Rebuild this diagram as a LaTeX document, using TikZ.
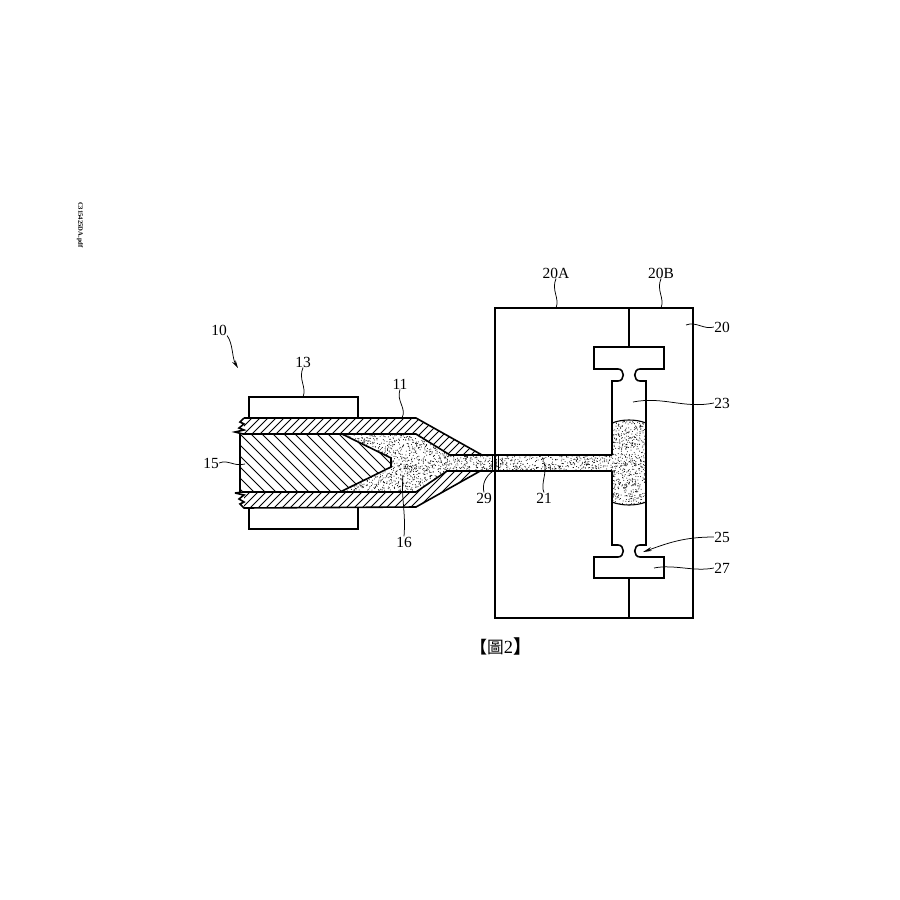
\documentclass[tikz,border=0pt]{standalone}
\usepackage{fontspec}
\usetikzlibrary{arrows.meta}
\setmainfont{Liberation Serif}
\newfontfamily\cjk{Noto Sans CJK TC}
\tikzset{
  wall/.style={black, line width=0.32mm, line join=miter},
  hatch/.style={black, line width=0.17mm},
  leader/.style={black, line width=0.15mm},
  refnum/.style={inner sep=0pt, font=\fontsize{8.8pt}{10pt}\selectfont}
}
\begin{document}
\begin{tikzpicture}[x=0.2mm, y=-0.2mm]
    \useasboundingbox (0,0) rectangle (900,900);
    % melt
    \begin{scope}
      \clip (342,434) -- (416,434) -- (450,455) -- (612,455) -- (612,423) .. controls (622,419) and (636,419) .. (646,423) -- (646,502) .. controls (636,506) and (622,506) .. (612,502) -- (612,471) -- (447,471) -- (416,492) -- (340,492) -- (391,467) -- (391,458) -- cycle;
      \pgfmathsetseed{29}
      \foreach \i in {1,...,5600} {
        \fill[black] ({340+306*rnd},{419+88*rnd}) circle (0.5);
      }
    \end{scope}
    % barrel hatching
    \begin{scope}
      \clip (244,418) -- (416,418) -- (482,455) -- (450,455) -- (416,434) -- (244,434) -- cycle (244,508) -- (416,507) -- (482,470) -- (447,470) -- (416,492) -- (244,492) -- cycle;
      \foreach \hx in {100,108,...,500} {
        \draw[hatch] (\hx,530) -- ++(130,-130);
      }
    \end{scope}
    % screw hatching
    \begin{scope}
      \clip (240,434) -- (342,434) -- (391,458) -- (391,467) -- (340,492) -- (240,492) -- cycle;
      \foreach \hx in {160,171,...,400} {
        \draw[hatch] (\hx,420) -- ++(90,90);
      }
    \end{scope}
    % barrel
    \draw[wall] (244,418) -- (240,422) -- (244,424) -- (239,428) -- (244,430) -- (235,432) -- (243,434) -- (244,434) -- (416,434) -- (450,455) -- (612,455);
    \draw[wall] (244,418) -- (416,418) -- (482,455);
    \draw[wall] (235,493) -- (243,492) -- (416,492) -- (447,471) -- (612,471);
    \draw[wall] (235,493) -- (244,495) -- (239,499) -- (244,502) -- (240,504) -- (244,508) -- (416,507) -- (482,470);
    % screw
    \draw[wall] (342,434) -- (391,458) -- (391,467) -- (340,492);
    \draw[wall] (240,434) -- (240,492);
    % heaters
    \draw[wall] (249,418) -- (249,397) -- (358,397) -- (358,418);
    \draw[wall] (249,508) -- (249,529) -- (358,529) -- (358,508);
    % mold
    \draw[wall] (495,308) rectangle (693,618);
    \draw[wall] (629,308) -- (629,347) (629,578) -- (629,618);
    % cavity
    \draw[wall] (612,455) -- (612,381) -- (618,381) .. controls (625,381) and (625,369) .. (618,369) -- (594,369) -- (594,347) -- (664,347) -- (664,369) -- (640,369) .. controls (633,369) and (633,381) .. (640,381) -- (646,381) -- (646,545) -- (640,545) .. controls (633,545) and (633,557) .. (640,557) -- (664,557) -- (664,578) -- (594,578) -- (594,557) -- (618,557) .. controls (625,557) and (625,545) .. (618,545) -- (612,545) -- (612,471);
    \draw[leader, line width=0.22mm] (612,423) .. controls (622,419) and (636,419) .. (646,423);
    \draw[leader, line width=0.22mm] (612,502) .. controls (622,506) and (636,506) .. (646,502);
    % gate
    \draw[hatch] (492,455) rectangle (498,471);
    % labels
    \node[refnum] (lab10) at (219,330) {10};
    \node[refnum] (lab13) at (303,362) {13};
    \node[refnum] (lab11) at (400,384) {11};
    \node[refnum] (lab15) at (211,463) {15};
    \node[refnum] (lab16) at (404,542) {16};
    \node[refnum] (lab29) at (484,498) {29};
    \node[refnum] (lab21) at (544,498) {21};
    \node[refnum] (lab20A) at (556,273) {20A};
    \node[refnum] (lab20B) at (661,273) {20B};
    \node[refnum] (lab20) at (722,327) {20};
    \node[refnum] (lab23) at (722,403) {23};
    \node[refnum] (lab25) at (722,537) {25};
    \node[refnum] (lab27) at (722,568) {27};
    \coordinate (end10) at (238,368);
    \coordinate (end13) at (303,397);
    \coordinate (end11) at (402,418);
    \coordinate (end15) at (245,464);
    \coordinate (end16) at (403,475);
    \coordinate (end29) at (493,471);
    \coordinate (end21) at (544,463);
    \coordinate (end20A) at (556,308);
    \coordinate (end20B) at (661,308);
    \coordinate (end20) at (686,325);
    \coordinate (end23) at (633,402);
    \coordinate (end25) at (643,552);
    \coordinate (end27) at (654,568);
    \draw[leader, -{Stealth[length=1.6mm,width=0.8mm]}] (lab10.south east) .. controls +(6,8) and +(-6,-10) .. (end10);
    \draw[leader] (lab13.south) .. controls +(-5,12) and +(4,-10) .. (end13);
    \draw[leader] (lab11.south) .. controls +(-4,12) and +(5,-10) .. (end11);
    \draw[leader] (lab15.east) .. controls +(10,-4) and +(-12,3) .. (end15);
    \draw[leader] (lab16.north) .. controls +(2,-25) and +(-2,25) .. (end16);
    \draw[leader] (lab29.north) .. controls +(-2,-8) and +(-8,6) .. (end29);
    \draw[leader] (lab21.north) .. controls +(-4,-8) and +(4,8) .. (end21);
    \draw[leader] (lab20A.south) .. controls +(-5,12) and +(4,-10) .. (end20A);
    \draw[leader] (lab20B.south) .. controls +(-5,12) and +(4,-10) .. (end20B);
    \draw[leader] (lab20.west) .. controls +(-10,3) and +(10,-4) .. (end20);
    \draw[leader] (lab23.west) .. controls +(-30,6) and +(30,-6) .. (end23);
    \draw[leader, -{Stealth[length=1.8mm,width=0.8mm]}] (lab25.west) .. controls +(-30,0) and +(25,-9) .. (end25);
    \draw[leader] (lab27.west) .. controls +(-20,4) and +(20,-4) .. (end27);
    % caption
    \node[inner sep=0pt, font=\fontsize{9.5pt}{11pt}\selectfont] (caption) at (501,646) {{\cjk\bfseries 【}{\cjk 圖}\fontsize{10.5pt}{11pt}\selectfont 2{\cjk\bfseries 】}};
    \node[inner sep=0pt, rotate=-90, font=\fontsize{3.8pt}{4pt}\selectfont\bfseries] (fname) at (80,225) {C315425DA.pdf};
\end{tikzpicture}
\end{document}
